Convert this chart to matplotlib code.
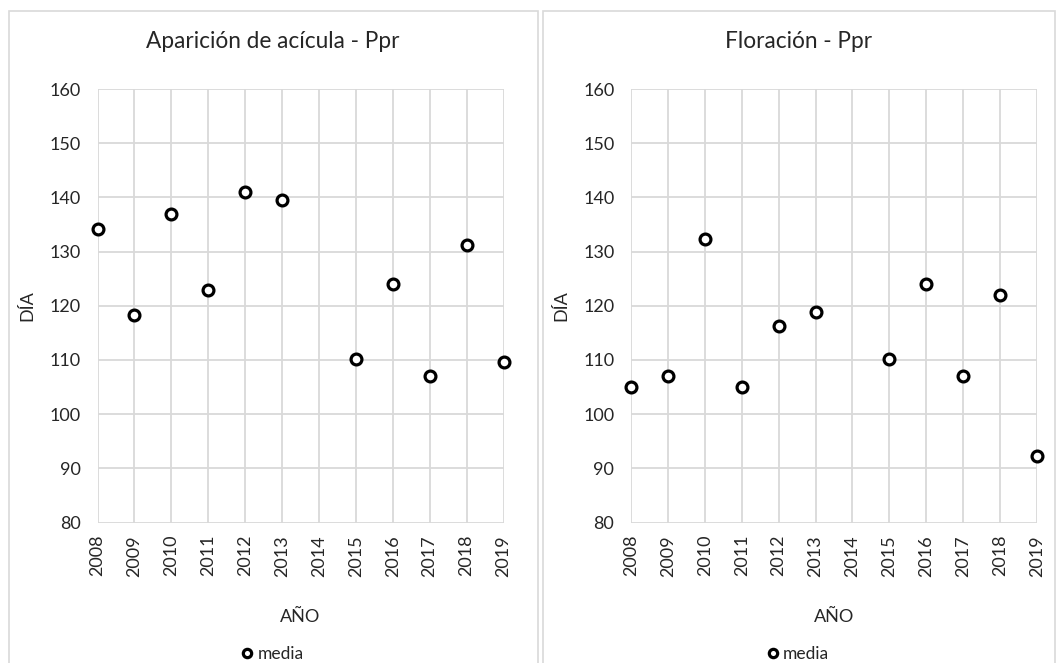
import matplotlib.pyplot as plt
from matplotlib.patches import Rectangle
from matplotlib.lines import Line2D

plt.rcParams['font.family'] = ['Lato', 'DejaVu Sans']

# category axis: 2014 has no observation
years = ['2008', '2009', '2010', '2011', '2012', '2013', '2014',
         '2015', '2016', '2017', '2018', '2019']
acicula = [134.2, 118.3, 136.9, 122.9, 140.9, 139.5, None,
           110.1, 124.0, 107.1, 131.3, 109.7]
floracion = [105.0, 107.1, 132.4, 105.0, 116.2, 118.9, None,
             110.1, 124.0, 107.0, 121.9, 92.2]

titles = ['Aparición de acícula - Ppr', 'Floración - Ppr']
series = [acicula, floracion]

W, H = 1059, 663
TXT = '#262626'
GRID = '#d9d9d9'

fig = plt.figure(figsize=(W / 100, H / 100), dpi=100)

# chart areas (pixel boxes: left, right) and plot areas
panels = [(8.5, 537.5), (542.5, 1054.5)]
plot_x = [97.5, 631]
plot_w = 406
plot_top, plot_bot = 89, 522.5

for (pl, pr), px, title, vals in zip(panels, plot_x, titles, series):
    # chart border
    fig.patches.append(Rectangle((pl / W, -0.1), (pr - pl) / W, (H - 11 + 0.5) / H + 0.1,
                                 transform=fig.transFigure, fill=False,
                                 edgecolor=GRID, lw=1.2))
    fig.text((pl + pr) / 2 / W, 1 - 41 / H, title, ha='center', va='center',
             fontsize=16.3, color=TXT)

    ax = fig.add_axes([px / W, (H - plot_bot) / H, plot_w / W, (plot_bot - plot_top) / H])
    idx = [i for i, v in enumerate(vals) if v is not None]
    ax.plot(idx, [vals[i] for i in idx], ls='none', marker='o', ms=7.8, mew=2.3,
            mfc='white', mec='black', clip_on=False, zorder=5)

    ax.set_xlim(0, len(years) - 1)
    ax.set_ylim(80, 160)
    ax.set_xticks(range(len(years)))
    ax.set_xticklabels(years, rotation=90)
    ax.set_yticks(range(80, 161, 10))
    ax.grid(True, color=GRID, lw=1.3)
    ax.set_axisbelow(True)
    for s in ax.spines.values():
        s.set_visible(False)
    ax.tick_params(length=0, labelsize=13, labelcolor=TXT)
    ax.tick_params(axis='x', pad=9)
    ax.tick_params(axis='y', pad=12)

    ax.set_xlabel('AÑO', fontsize=13, color=TXT)
    ax.xaxis.set_label_coords(0.5, -86.5 / (plot_bot - plot_top))
    ax.set_ylabel('DÍA', fontsize=13, color=TXT)
    ax.yaxis.set_label_coords(-62 / plot_w, 0.5)

    handle = Line2D([], [], ls='none', marker='o', ms=6, mew=2.3,
                    mfc='white', mec='black')
    fig.legend([handle], ['media'], loc='center',
               bbox_to_anchor=((pl + pr) / 2 / W, 1 - 654 / H),
               frameon=False, fontsize=12.5, labelcolor=TXT,
               handlelength=0.6, handletextpad=0.3, borderpad=0)

fig.savefig('out.png', dpi=100, facecolor='white')
